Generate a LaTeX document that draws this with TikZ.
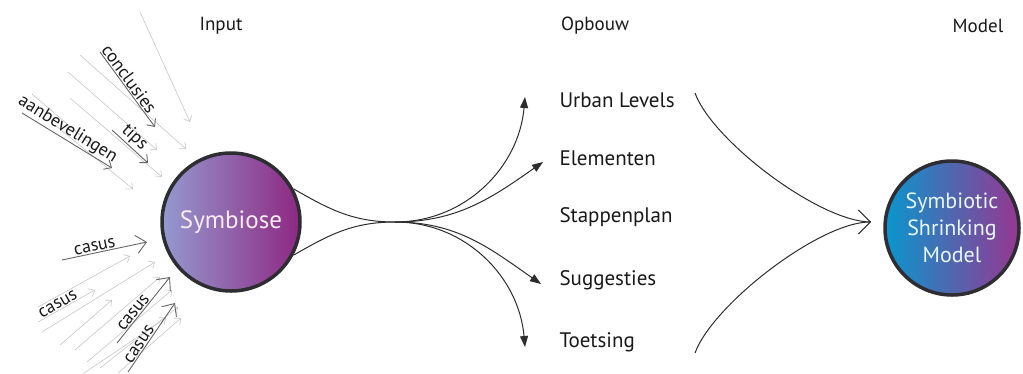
\documentclass[tikz,border=0pt]{standalone}
\usepackage{fontspec}
\setmainfont{PT Sans}
\usetikzlibrary{calc,arrows.meta}
\newcommand{\rimwidth}{3.5pt}
\newcommand{\txtsize}[1]{\fontsize{#1}{#1}\selectfont}
\definecolor{symleft}{RGB}{148,154,208}
\definecolor{symright}{RGB}{142,40,130}
\definecolor{modleft}{RGB}{10,150,205}
\definecolor{modmid}{RGB}{40,115,190}
\definecolor{modright}{RGB}{150,55,145}
\definecolor{rim}{RGB}{45,45,50}
\definecolor{ink}{RGB}{45,45,45}
\definecolor{textink}{RGB}{25,25,25}

\begin{document}
\begin{tikzpicture}[x=1pt,y=1pt,
    flow/.style={draw=ink, line width=1pt},
    filltip/.style={-{Triangle[length=11pt,width=8pt]}},
    feed/.style={draw=black!22, line width=.6pt, -{Straight Barb[length=5pt,width=9pt]}},
    feeddark/.style={draw=black!60, line width=.9pt, -{Straight Barb[length=6pt,width=11pt]}},
    feedbig/.style={draw=black!60, line width=.9pt, -{Straight Barb[length=10pt,width=18pt]}},
    feedlab/.style={above, sloped, inner sep=1pt, text=textink, font=\txtsize{18}},
    item/.style={anchor=west, text=textink, font=\txtsize{21}},
    head/.style={text=textink, font=\txtsize{19}}]
  \useasboundingbox (0,0) rectangle (1023,-373);

  % headers
  \node (hinput) at (221,-26) [head] {Input};
  \node (hopbouw) at (595,-26) [head] {Opbouw};
  \node (hmodel) at (978,-26) [head] {Model};

  % circles
  \node (sym) at (231,-222) [circle, draw=rim, line width=\rimwidth, minimum size=138,
      left color=symleft, right color=symright, text=white!92!purple, font=\txtsize{25}] {Symbiose};
  \node (model) at (952,-228) [circle, draw=rim, line width=\rimwidth, minimum size=134,
      left color=modleft, middle color=modmid, right color=modright, text=white!90!cyan,
      align=center, font=\txtsize{22}, inner sep=0pt] {Symbiotic\\[5pt]Shrinking\\[5pt]Model};

  % opbouw
  \node (urban) at (556,-100) [item] {Urban Levels};
  \node (elem) at (556,-158) [item] {Elementen};
  \node (stap) at (556,-217) [item] {Stappenplan};
  \node (sugg) at (556,-280) [item] {Suggesties};
  \node (toets) at (556,-342) [item] {Toetsing};

  % fan out
  \coordinate (waist) at (395,-222);
  \coordinate (tipU) at (525,-97);
  \coordinate (tipE) at (543,-162);
  \coordinate (tipS) at (541,-284);
  \coordinate (tipT) at (525,-347);
  \draw[flow] (sym.28) to[out=-30,in=180] (waist);
  \draw[flow] (sym.-28) to[out=30,in=180] (waist);
  \draw[flow,filltip] (waist) to[out=0,in=-95] (tipU);
  \draw[flow,filltip] (waist) to[out=0,in=-145] (tipE);
  \draw[flow,filltip] (waist) to[out=0,in=145] (tipS);
  \draw[flow,filltip] (waist) to[out=0,in=95] (tipT);

  % fan in
  \coordinate (fromU) at (695,-93);
  \coordinate (fromT) at (695,-353);
  \coordinate (merge) at (871,-222);
  \draw[flow] (fromU) to[out=-70,in=180,looseness=.6] (merge);
  \draw[flow,-{Straight Barb[length=12pt,width=24pt]}] (fromT) to[out=70,in=180,looseness=.6] (merge);

  % input arrows, light
  \foreach \sx/\sy/\ex/\ey [count=\i] in {140/-12/190/-122, 80/-55/186/-149, 68/-72/157/-150,
      32/-94/93/-146, 70/-98/162/-177, 55/-125/133/-189,
      38/-307/130/-256, 42/-332/155/-262, 75/-350/160/-277, 87/-362/172/-290,
      100/-368/178/-307, 84/-373/166/-318, 118/-373/181/-318, 60/-345/112/-300}{
    \coordinate (in\i) at (\sx,\sy);
    \coordinate (out\i) at (\ex,\ey);
    \draw[feed] (in\i) -- (out\i);
  }

  % input arrows with labels
  \coordinate (concA) at (100,-52);  \coordinate (concB) at (155,-127);
  \coordinate (tipsA) at (112,-130); \coordinate (tipsB) at (148,-163);
  \coordinate (aanbA) at (22,-113);  \coordinate (aanbB) at (112,-168);
  \coordinate (cas1A) at (62,-260);  \coordinate (cas1B) at (147,-242);
  \coordinate (cas2A) at (38,-322);  \coordinate (cas2B) at (95,-290);
  \coordinate (cas3A) at (117,-343); \coordinate (cas3B) at (170,-277);
  \coordinate (cas4A) at (128,-372); \coordinate (cas4B) at (175,-303);
  \draw[feeddark] (concA) -- node[feedlab, pos=.42] (lconc) {conclusies} (concB);
  \draw[feeddark] (tipsA) -- node[feedlab, pos=.45] (ltips) {tips} (tipsB);
  \draw[feeddark] (aanbA) -- node[feedlab, pos=.45] (laanb) {aanbevelingen} (aanbB);
  \draw[feedbig] (cas1A) -- node[feedlab, pos=.4] (lcas1) {casus} (cas1B);
  \draw[feed] (cas2A) -- node[feedlab, pos=.4] (lcas2) {casus} (cas2B);
  \draw[feedbig] (cas3A) -- node[feedlab, pos=.4] (lcas3) {casus} (cas3B);
  \draw[feedbig] (cas4A) -- node[feedlab, pos=.35] (lcas4) {casus} (cas4B);
\end{tikzpicture}
\end{document}
